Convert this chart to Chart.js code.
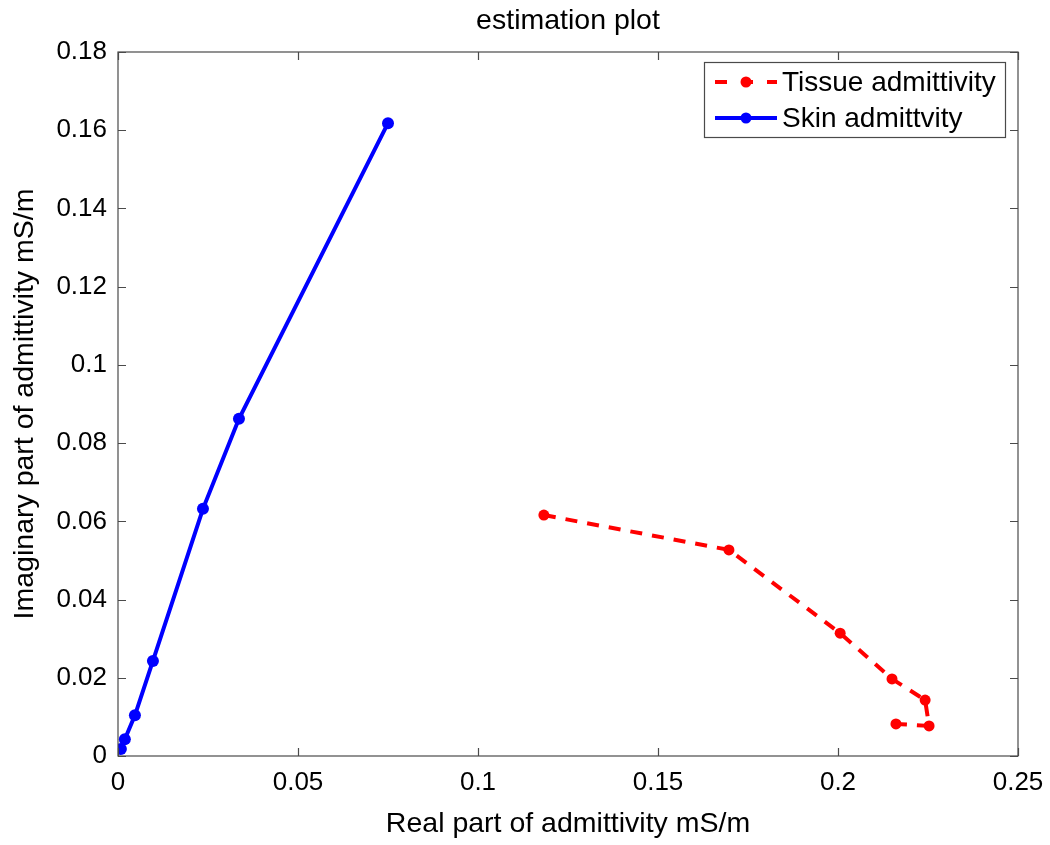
<!DOCTYPE html>
<html>
<head>
<meta charset="utf-8">
<script src="https://cdn.jsdelivr.net/npm/chart.js@4/dist/chart.umd.min.js"></script>
<style>
  html, body { margin: 0; padding: 0; background: #fff; }
  #wrap { width: 1050px; height: 845px; position: relative; }
</style>
</head>
<body>
<div id="wrap"><canvas id="c" width="1050" height="845"></canvas></div>
<script>
// data
const tissueReal = [0.1183, 0.1697, 0.2006, 0.2150, 0.2242, 0.2253, 0.2161];
const tissueImag = [0.0616, 0.0527, 0.0314, 0.0197, 0.0143, 0.0077, 0.0082];
const skinReal = [0.0008, 0.0019, 0.0047, 0.0097, 0.0236, 0.0336, 0.0750];
const skinImag = [0.0018, 0.0043, 0.0104, 0.0243, 0.0632, 0.0862, 0.1618];
const xTicks = [0, 0.05, 0.1, 0.15, 0.2, 0.25];
const yTicks = [0, 0.02, 0.04, 0.06, 0.08, 0.1, 0.12, 0.14, 0.16, 0.18];
const seriesNames = ["Tissue admittivity", "Skin admittvity"];

const FONT = "Arial, 'Liberation Sans', sans-serif";
const fmt = v => String(Number(v.toFixed(3)));

function pts(xs, ys) { return xs.map((x, i) => ({ x: x, y: ys[i] })); }

// MATLAB style box, inward ticks, title and legend
const matlabAxes = {
  id: "matlabAxes",
  afterDraw(chart) {
    const ctx = chart.ctx, a = chart.chartArea;
    const xs = chart.scales.x, ys = chart.scales.y;
    ctx.save();
    ctx.strokeStyle = "#4a4a4a";
    ctx.lineWidth = 1.2;
    ctx.strokeRect(a.left, a.top, a.right - a.left, a.bottom - a.top);
    ctx.beginPath();
    const t = 8;
    xTicks.forEach(v => {
      const p = Math.round(xs.getPixelForValue(v)) + 0.5;
      ctx.moveTo(p, a.bottom); ctx.lineTo(p, a.bottom - t);
      ctx.moveTo(p, a.top); ctx.lineTo(p, a.top + t);
    });
    yTicks.forEach(v => {
      const p = Math.round(ys.getPixelForValue(v)) + 0.5;
      ctx.moveTo(a.left, p); ctx.lineTo(a.left + t, p);
      ctx.moveTo(a.right, p); ctx.lineTo(a.right - t, p);
    });
    ctx.stroke();

    // title
    ctx.fillStyle = "#000";
    ctx.font = "28.5px " + FONT;
    ctx.textAlign = "center";
    ctx.textBaseline = "middle";
    ctx.fillText("estimation plot", (a.left + a.right) / 2, 21);

    // legend
    const lx = 704, ly = 62, lw = 301, lh = 75;
    ctx.fillStyle = "#fff";
    ctx.fillRect(lx, ly, lw, lh);
    ctx.strokeStyle = "#4a4a4a";
    ctx.lineWidth = 1.2;
    ctx.strokeRect(lx + 0.5, ly + 0.5, lw, lh);
    const rows = [
      { name: seriesNames[0], color: "#ff0000", dash: [12, 14], y: ly + 20 },
      { name: seriesNames[1], color: "#0000ff", dash: [], y: ly + 56 }
    ];
    rows.forEach(r => {
      ctx.strokeStyle = r.color;
      ctx.lineWidth = 4;
      ctx.setLineDash(r.dash);
      ctx.beginPath();
      ctx.moveTo(715, r.y); ctx.lineTo(777, r.y);
      ctx.stroke();
      ctx.setLineDash([]);
      ctx.fillStyle = r.color;
      ctx.beginPath();
      ctx.arc(746, r.y, 5.5, 0, Math.PI * 2);
      ctx.fill();
      ctx.fillStyle = "#000";
      ctx.font = "28px " + FONT;
      ctx.textAlign = "left";
      ctx.textBaseline = "middle";
      ctx.fillText(r.name, 782, r.y + 1);
    });
    ctx.restore();
  }
};

new Chart(document.getElementById("c"), {
  type: "scatter",
  data: {
    datasets: [
      {
        label: seriesNames[0],
        data: pts(tissueReal, tissueImag),
        showLine: true,
        borderColor: "#ff0000",
        backgroundColor: "#ff0000",
        borderWidth: 4,
        borderDash: [12, 10],
        pointRadius: 5.5,
        pointBorderWidth: 0
      },
      {
        label: seriesNames[1],
        data: pts(skinReal, skinImag),
        showLine: true,
        borderColor: "#0000ff",
        backgroundColor: "#0000ff",
        borderWidth: 4,
        pointRadius: 6,
        pointBorderWidth: 0
      }
    ]
  },
  options: {
    responsive: false,
    animation: false,
    layout: { padding: { top: 52, right: 32, left: 0, bottom: 0 } },
    plugins: {
      legend: { display: false },
      title: { display: false },
      tooltip: { enabled: false }
    },
    scales: {
      x: {
        type: "linear",
        min: 0, max: 0.25,
        afterFit(s) { s.height = 845 - 52 - 704; s.paddingLeft = 0; s.paddingRight = 0; },
        afterBuildTicks(s) { s.ticks = xTicks.map(v => ({ value: v })); },
        grid: { display: false, drawTicks: false },
        border: { display: false },
        ticks: { padding: 11, color: "#000", font: { size: 26, family: FONT }, callback: v => fmt(v), maxRotation: 0 },
        title: { display: true, text: "Real part of admittivity mS/m", color: "#000", font: { size: 28.5, family: FONT }, padding: { top: 6 } }
      },
      y: {
        type: "linear",
        min: 0, max: 0.18,
        afterFit(s) { s.width = 118; s.paddingTop = 0; s.paddingBottom = 0; },
        afterBuildTicks(s) { s.ticks = yTicks.map(v => ({ value: v })); },
        grid: { display: false, drawTicks: false },
        border: { display: false },
        ticks: { padding: 11, color: "#000", font: { size: 26, family: FONT }, callback: v => fmt(v) },
        title: { display: true, text: "Imaginary part of admittivity mS/m", color: "#000", font: { size: 28.5, family: FONT }, padding: { top: 8, bottom: 4 } }
      }
    }
  },
  plugins: [matlabAxes]
});
</script>
</body>
</html>
